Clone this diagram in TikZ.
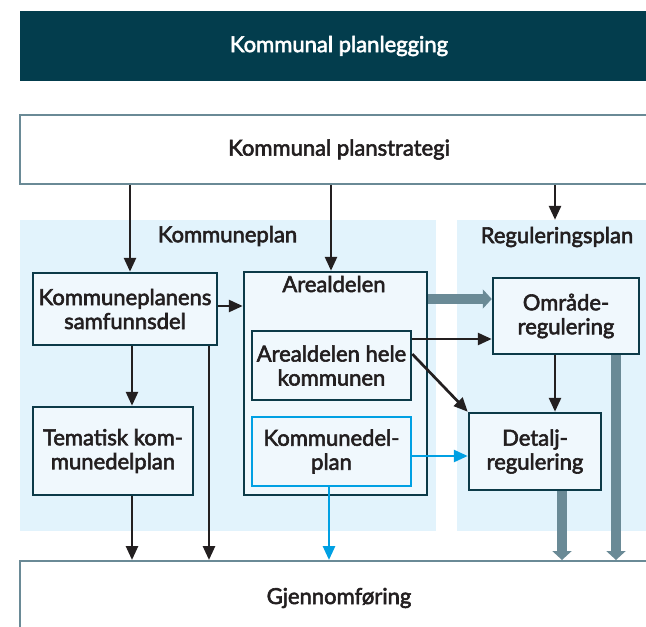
\documentclass[tikz,border=0pt]{standalone}
\usepackage{fontspec}
\setmainfont{Lato}[FakeBold=2.6]
\usetikzlibrary{arrows.meta}
\definecolor{darkteal}{RGB}{3,61,77}
\definecolor{boxline}{RGB}{12,58,72}
\definecolor{grayline}{RGB}{106,138,150}
\definecolor{lightbg}{RGB}{226,243,252}
\definecolor{boxfill}{RGB}{240,248,253}
\definecolor{bluel}{RGB}{0,160,227}
\definecolor{ink}{RGB}{35,31,32}
\tikzset{
  every node/.style={font=\fontsize{22}{24}\selectfont, text=ink, inner sep=0pt, align=center},
  outerbox/.style={draw=grayline, line width=2, fill=white},
  innerbox/.style={draw=boxline, line width=2.5, fill=boxfill},
  bluebox/.style={draw=bluel, line width=2.5, fill=boxfill},
  region/.style={fill=lightbg},
  arr/.style={draw=ink, line width=2.7, -{Triangle[length=14pt,width=12pt]}},
  barr/.style={draw=bluel, line width=2.7, -{Triangle[length=14pt,width=12pt]}},
  garr/.style={draw=grayline, line width=10, -{Triangle[length=9pt,width=19pt]}},
}
\begin{document}
\begin{tikzpicture}[x=1pt,y=-1pt]
\useasboundingbox (0,0) rectangle (646,627);
\clip (0,0) rectangle (646,627);
\fill[white] (0,0) rectangle (646,627);
% top bar and outer boxes
\node[fill=darkteal, minimum width=638, minimum height=70, text=white] (title) at (339,46) {Kommunal planlegging};
\node[outerbox, minimum width=638, minimum height=69] (strat) at (339,149.5) {Kommunal planstrategi};
\node[outerbox, minimum width=638, minimum height=74] (gjen) at (339,598) {Gjennomføring};
% regions
\node[region, minimum width=416, minimum height=311] (kpbg) at (228,375.5) {};
\node[region, minimum width=243, minimum height=311] (rpbg) at (578.5,375.5) {};
\node (kplabel) at (227.5,236) {Kommuneplan};
\node (rplabel) at (557,237) {Reguleringsplan};
% boxes
\node[innerbox, minimum width=184, minimum height=72] (samf) at (125,309) {Kommuneplanens\\samfunnsdel};
\node[innerbox, minimum width=160, minimum height=88] (tem) at (113,451) {Tematisk kom-\\munedelplan};
\node[innerbox, minimum width=183, minimum height=223] (areal) at (335.5,383.5) {};
\node (areallabel) at (334,284) {Arealdelen};
\node[innerbox, minimum width=159, minimum height=69] (hele) at (331.5,365.5) {Arealdelen hele\\kommunen};
\node[bluebox, minimum width=159, minimum height=69] (kdp) at (331.5,451.5) {Kommunedel-\\plan};
\node[innerbox, minimum width=146, minimum height=76] (omr) at (566,316) {Område-\\regulering};
\node[innerbox, minimum width=132, minimum height=77] (det) at (535,451.5) {Detalj-\\regulering};
% connectors
\draw[arr] (130,0 |- strat.south) -- (130,0 |- samf.north);
\draw[arr] (331,0 |- strat.south) -- (331,0 |- areal.north);
\draw[arr] (555,0 |- strat.south) -- (555,0 |- rpbg.north);
\draw[arr] (samf.east |- 0,306) -- (areal.west |- 0,306);
\draw[arr] (132,0 |- samf.south) -- (132,0 |- tem.north);
\draw[arr] (209,0 |- samf.south) -- (209,0 |- gjen.north);
\draw[arr] (132,0 |- tem.south) -- (132,0 |- gjen.north);
\draw[barr] (329,0 |- kdp.south) -- (329,0 |- gjen.north);
\draw[barr] (kdp.east |- 0,456) -- (det.west |- 0,456);
\draw[arr] (hele.east |- 0,339) -- (omr.west |- 0,339);
\draw[arr] (hele.east |- 0,354) -- (det.north west);
\draw[garr] (areal.east |- 0,299) -- (omr.west |- 0,299);
\draw[arr] (555,0 |- omr.south) -- (555,0 |- det.north);
\draw[garr] (562,0 |- det.south) -- (562,0 |- gjen.north);
\draw[garr] (616,0 |- omr.south) -- (616,0 |- gjen.north);
\end{tikzpicture}
\end{document}
